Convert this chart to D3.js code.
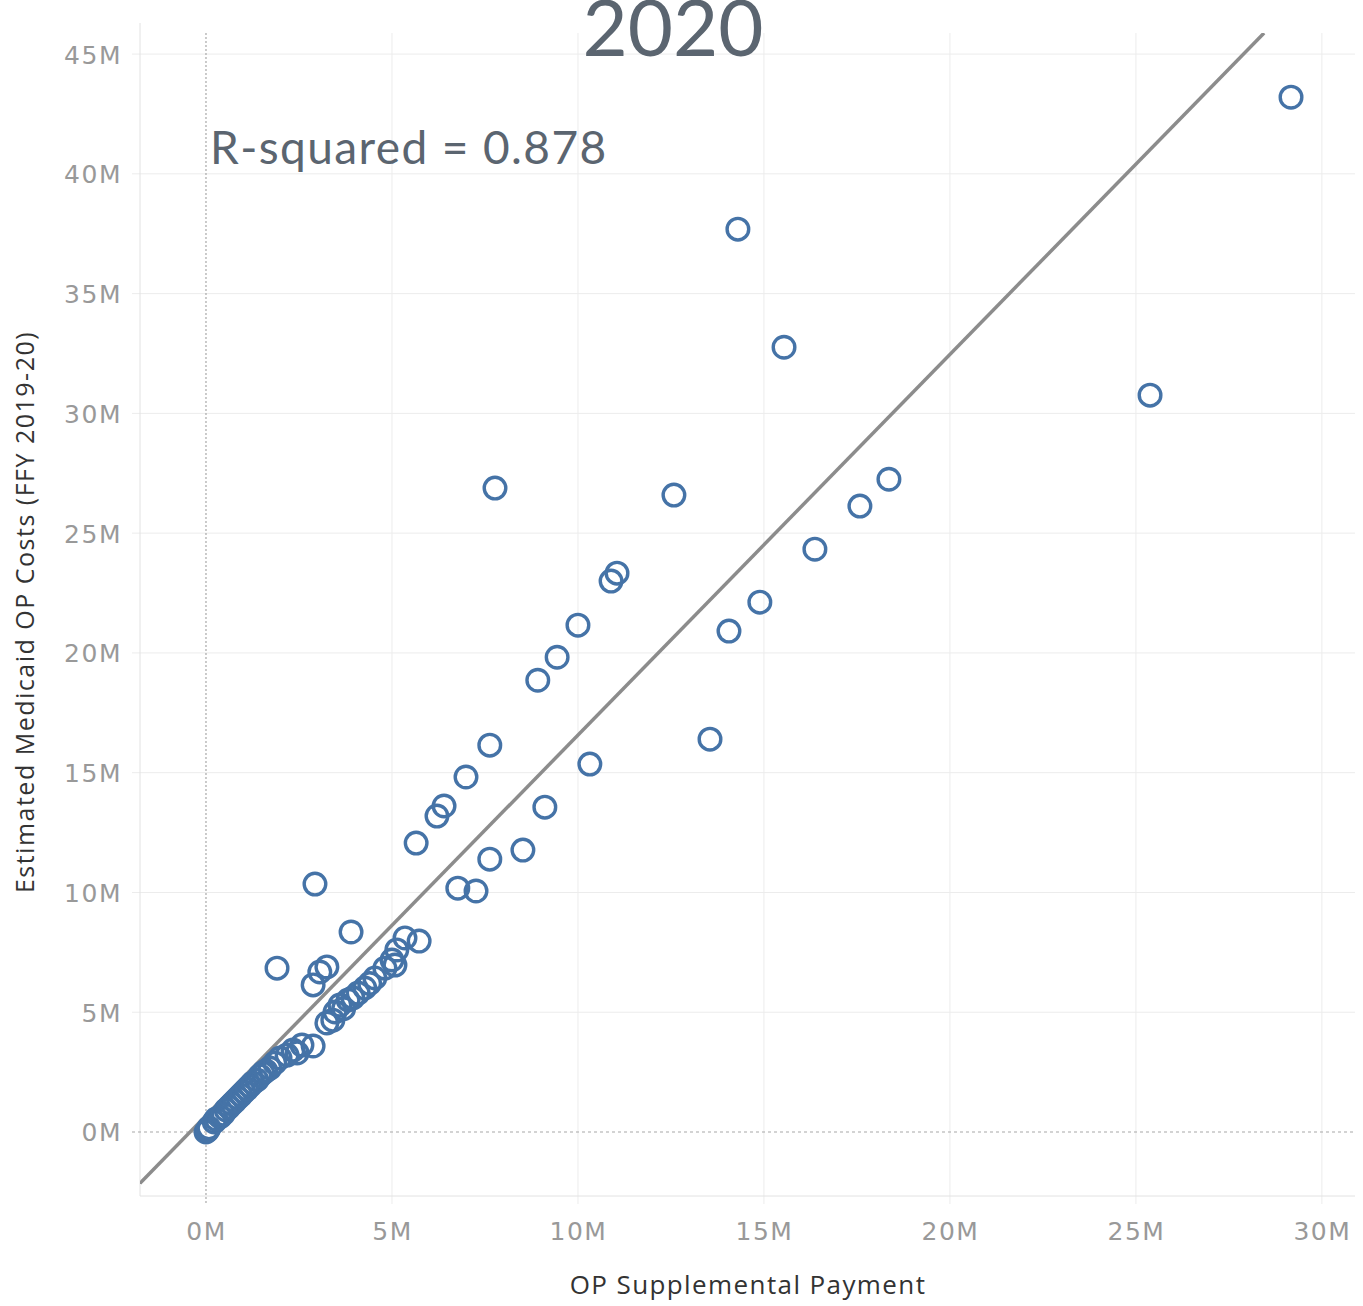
<!DOCTYPE html>
<html><head><meta charset="utf-8">
<script src="https://cdn.jsdelivr.net/npm/d3@7"></script>
<style>body{margin:0;background:#fff}svg{display:block}</style>
</head><body>
<script>
// Data in millions (M)
const opSupplementalPayment = [
 29.17,14.30,15.54,25.38,7.77,12.58,18.36,17.58,11.05,10.89,16.37,10.00,14.89,9.44,14.06,8.92,7.63,13.55,6.99,10.32,
 6.40,6.21,9.11,5.65,8.52,7.63,6.77,7.26,2.93,3.90,5.35,5.73,1.91,3.25,3.06,2.88,5.13,5.00,5.08,4.81,
 4.54,4.27,4.09,3.82,3.60,3.47,3.25,3.41,2.88,2.58,2.34,2.18,1.99,1.72,1.53,1.37,1.18,1.02,0.86,0.70,
 0.54,0.38,0.22,0.08,0.00,0.05,0.27,0.46,0.62,0.78,0.94,1.10,1.26,1.45,1.61,1.85,3.95,3.70,4.40,2.45
];
const medicaidOpCosts = [
 43.20,37.69,32.76,30.76,26.88,26.59,27.25,26.13,23.33,23.00,24.33,21.16,22.12,19.82,20.91,18.86,16.15,16.40,14.82,15.36,
 13.61,13.19,13.56,12.06,11.77,11.39,10.18,10.06,10.35,8.35,8.10,7.97,6.84,6.89,6.68,6.14,7.60,7.18,6.97,6.84,
 6.43,6.01,5.80,5.51,5.30,5.01,4.55,4.67,3.59,3.63,3.42,3.21,3.09,2.67,2.46,2.17,1.92,1.67,1.42,1.17,
 0.92,0.63,0.42,0.17,0.00,0.08,0.54,0.75,1.04,1.29,1.54,1.79,2.05,2.34,2.55,2.88,5.60,5.15,6.20,3.30
];
const xTicks = [0,5,10,15,20,25,30];
const yTicks = [0,5,10,15,20,25,30,35,40,45];
const trendSlope = 1.589, trendIntercept = 0.68;
const rSquaredLabel = "R-squared = 0.878";
const titleText = "2020";

const W = 1363, H = 1306;
const svg = d3.select("body").append("svg").attr("width", W).attr("height", H);
const L = 140, R = 1355, T = 33, B = 1196;
const x = d3.scaleLinear().domain([-1.774, 30.89]).range([L, R]);
const y = d3.scaleLinear().domain([-2.672, 45.88]).range([B, T]);

// gridlines
const grid = svg.append("g");
grid.selectAll(".vg").data(xTicks.filter(d => d !== 0)).enter().append("line")
  .attr("x1", d => x(d)).attr("x2", d => x(d)).attr("y1", T).attr("y2", B + 8)
  .attr("stroke", "#ececec").attr("stroke-width", 1);
grid.selectAll(".hg").data(yTicks.filter(d => d !== 0)).enter().append("line")
  .attr("x1", L - 8).attr("x2", R).attr("y1", d => y(d)).attr("y2", d => y(d))
  .attr("stroke", "#ececec").attr("stroke-width", 1);
// borders
svg.append("line").attr("x1", L).attr("x2", L).attr("y1", T - 10).attr("y2", B).attr("stroke", "#e2e2e2");
svg.append("line").attr("x1", L).attr("x2", R).attr("y1", B).attr("y2", B).attr("stroke", "#e2e2e2");
// zero lines
svg.append("line").attr("x1", x(0)).attr("x2", x(0)).attr("y1", T).attr("y2", B + 8)
  .attr("stroke", "#a8a8a8").attr("stroke-dasharray", "2,2").attr("stroke-width", 1.2);
svg.append("line").attr("x1", L - 8).attr("x2", R).attr("y1", y(0)).attr("y2", y(0))
  .attr("stroke", "#a8a8a8").attr("stroke-dasharray", "3,3").attr("stroke-width", 1.2);

// axes
const xAxis = d3.axisBottom(x).tickValues(xTicks).tickFormat(d => d + "M").tickSize(0).tickPadding(0);
const gx = svg.append("g").attr("transform", `translate(0,${B})`).call(xAxis);
gx.select(".domain").remove();
gx.selectAll("text").attr("y", 44).attr("dy", 0).attr("font-family", "DejaVu Sans").attr("font-size", 25)
  .attr("letter-spacing", 1.5).attr("fill", "#999");
const yAxis = d3.axisLeft(y).tickValues(yTicks).tickFormat(d => d + "M").tickSize(0).tickPadding(0);
const gy = svg.append("g").attr("transform", `translate(122,0)`).call(yAxis);
gy.select(".domain").remove();
gy.selectAll("text").attr("x", 0).attr("dy", "0.36em").attr("font-family", "DejaVu Sans").attr("font-size", 25)
  .attr("letter-spacing", 1.5).attr("fill", "#999");

// clip
svg.append("clipPath").attr("id", "clip").append("rect").attr("x", L).attr("y", T).attr("width", R - L).attr("height", B - T);

// trend line
const x0 = x.domain()[0], x1 = (y.domain()[1] - trendIntercept) / trendSlope;
svg.append("line").attr("clip-path", "url(#clip)")
  .attr("x1", x(x0)).attr("y1", y(trendIntercept + trendSlope * x0))
  .attr("x2", x(x1)).attr("y2", y(trendIntercept + trendSlope * x1))
  .attr("stroke", "#8c8c8c").attr("stroke-width", 3.5);

// points
const pts = opSupplementalPayment.map((v, i) => ({x: v, y: medicaidOpCosts[i]}));
svg.append("g").selectAll("circle").data(pts).enter().append("circle")
  .attr("cx", d => x(d.x)).attr("cy", d => y(d.y)).attr("r", 10.8)
  .attr("fill", "none").attr("stroke", "#4573a7").attr("stroke-width", 3.4);

// texts
svg.append("text").attr("x", 210).attr("y", 164).text(rSquaredLabel)
  .attr("font-family", "Lato").attr("font-size", 46).attr("letter-spacing", 1.4).attr("fill", "#5b6570");
svg.append("text").attr("x", 673).attr("y", 56).attr("text-anchor", "middle").text(titleText)
  .attr("font-family", "Lato").attr("font-size", 78).attr("fill", "#5b6570");
svg.append("text").attr("transform", "translate(34,612) rotate(-90)").attr("text-anchor", "middle")
  .text("Estimated Medicaid OP Costs (FFY 2019-20)")
  .attr("font-family", "Open Sans").attr("font-size", 25).attr("letter-spacing", 1.5).attr("fill", "#333");
svg.append("text").attr("x", 748).attr("y", 1294).attr("text-anchor", "middle")
  .text("OP Supplemental Payment")
  .attr("font-family", "Open Sans").attr("font-size", 26).attr("letter-spacing", 1.4).attr("fill", "#333");
</script>
</body></html>
